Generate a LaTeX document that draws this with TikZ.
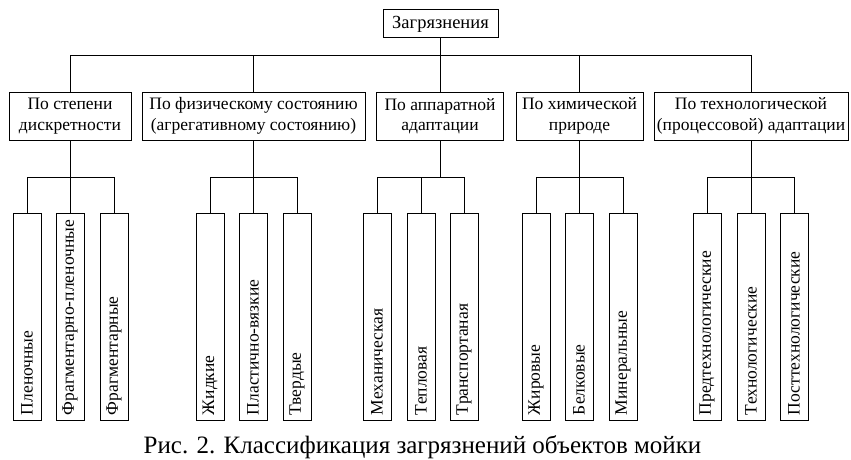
\documentclass[tikz,border=0pt]{standalone}
\usepackage{fontspec}
\setmainfont{Liberation Serif}
\begin{document}
\begin{tikzpicture}[x=1pt,y=-1pt,
    box/.style={draw,line width=1pt,align=center,inner sep=0pt,minimum height=48pt,font=\fontsize{17.5}{20.5}\selectfont},
    leaf/.style={draw,line width=1pt,rotate=90,minimum width=207pt,minimum height=28pt,inner xsep=5pt,inner ysep=0pt,text width=197pt,align=left,font=\fontsize{17.5}{20}\selectfont},
    link/.style={line width=1pt}]
  \useasboundingbox (0,0) rectangle (851,460);
  %% Root
  \node[box,minimum width=115pt,minimum height=28pt,font=\fontsize{18.5}{21}\selectfont] (root) at (440.5,24) {Загрязнения};
  %% Classification features
  \node[box,minimum width=122pt] (disc) at (70,116) {По степени\\дискретности};
  \node[box,minimum width=223pt] (phys) at (253.5,116) {По физическому состоянию\\(агрегативному состоянию)};
  \node[box,minimum width=127pt] (appar) at (440,116) {По аппаратной\\адаптации};
  \node[box,minimum width=127pt] (chem) at (579.5,116) {По химической\\природе};
  \node[box,minimum width=194pt] (tech) at (751,116) {По технологической\\(процессовой) адаптации};
  %% Top bus
  \coordinate (top) at (440.5,56);
  \draw[link] (root) -- (top);
  \foreach \c in {disc,phys,appar,chem,tech}
    \draw[link] (top) -| (\c.north);
  %% Leaves
  \foreach \x/\n/\t in {27/l11/Пленочные, 70/l12/Фрагментарно-пленочные, 114/l13/Фрагментарные,
      210/l21/Жидкие, 253/l22/Пластично-вязкие, 297/l23/Твердые,
      377/l31/Механическая, 421/l32/Тепловая, 464/l33/Транспортаная,
      536/l41/Жировые, 579/l42/Белковые, 623/l43/Минеральные,
      707/l51/Предтехнологические, 751/l52/Технологические, 794/l53/Посттехнологические}
    \node[leaf] (\n) at (\x,316.5) {\t};
  %% Branches
  \foreach \c/\x/\a/\b/\d in {disc/70/l11/l12/l13, phys/253.5/l21/l22/l23, appar/440/l31/l32/l33,
      chem/579.5/l41/l42/l43, tech/751/l51/l52/l53} {
    \coordinate (\c-b) at (\x,177);
    \draw[link] (\c) -- (\c-b);
    \foreach \l in {\a,\b,\d}
      \draw[link] (\c-b) -| (\l.east);
  }
  %% Caption
  \node[anchor=base,font=\fontsize{25}{30}\selectfont] (caption) at (422.5,453) {Рис. 2. Классификация загрязнений объектов мойки};
\end{tikzpicture}
\end{document}
